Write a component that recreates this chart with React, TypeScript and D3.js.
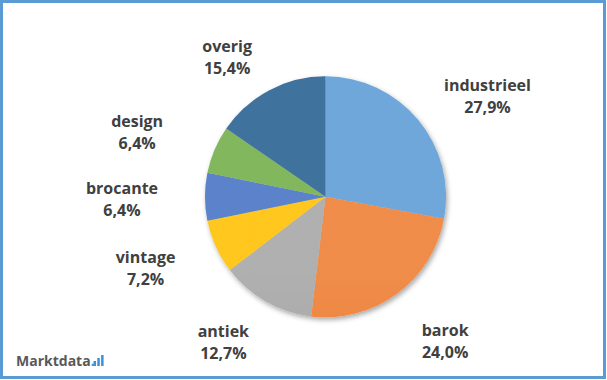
import React from "react";
import * as d3 from "d3";

const categories = ["industrieel", "barok", "antiek", "vintage", "brocante", "design", "overig"];
const values = [27.9, 24.0, 12.7, 7.2, 6.4, 6.4, 15.4];
const valueLabels = ["27,9%", "24,0%", "12,7%", "7,2%", "6,4%", "6,4%", "15,4%"];
const colors = ["#5B9BD5", "#ED7D31", "#A5A5A5", "#FFC000", "#4472C4", "#70AD47", "#255E91"];

// layout-only label nudges (px) relative to the standard outside position
const labelNudge: [number, number][] = [
  [16, 18], [7, -12], [-8, -23], [-7, -11], [-13.5, -1], [-13.5, 6.5], [-10, 25.5],
];

const W = 607;
const H = 380;
const CX = 325.5;
const CY = 196.8;
const R = 120.5;
const LABEL_R = 190;

export default function App() {
  const pie = d3.pie<number>().sort(null).value((d) => d);
  const arcs = pie(values);
  const arcGen = d3.arc<d3.PieArcDatum<number>>().innerRadius(0).outerRadius(R);

  return (
    <svg
      width={W}
      height={H}
      style={{ position: "absolute", left: 0, top: 0, background: "#fff" }}
      fontFamily="'Open Sans', sans-serif"
    >
      <defs>
        <filter id="shadow" x="-20%" y="-20%" width="140%" height="140%">
          <feDropShadow dx="1.5" dy="2.5" stdDeviation="2.5" floodColor="#000" floodOpacity="0.35" />
        </filter>
        <linearGradient id="shine" gradientUnits="userSpaceOnUse" x1="0" y1={CY - R} x2="0" y2={CY + R}>
          <stop offset="0" stopColor="#fff" stopOpacity="0.12" />
          <stop offset="0.5" stopColor="#fff" stopOpacity="0.03" />
          <stop offset="1" stopColor="#000" stopOpacity="0.04" />
        </linearGradient>
      </defs>
      <rect x={0} y={0} width={W} height={H} fill="#fff" />
      <rect x={1.5} y={1.5} width={603} height={376} fill="none" stroke="#5B9BD5" strokeWidth={3} />

      <g transform={`translate(${CX},${CY})`}>
        <g filter="url(#shadow)">
          {arcs.map((a, i) => (
            <path key={i} d={arcGen(a) || ""} fill={colors[i]} />
          ))}
        </g>
        <circle r={R} cx={0} cy={0} fill="url(#shine)" transform={`translate(0,0)`} />
      </g>

      {arcs.map((a, i) => {
        const mid = (a.startAngle + a.endAngle) / 2;
        const x = CX + Math.sin(mid) * LABEL_R + labelNudge[i][0];
        const y = CY - Math.cos(mid) * LABEL_R + labelNudge[i][1];
        return (
          <g key={i} fill="#404040" fontWeight="bold" fontSize={16} textAnchor="middle">
            <text x={x} y={y - 2}>{categories[i]}</text>
            <text x={x} y={y + 20}>{valueLabels[i]}</text>
          </g>
        );
      })}

      <g>
        <text x={16} y={366} fontSize={14} fontWeight="bold" fill="#595959">
          Marktdata<tspan fill="#3F8FDA">.</tspan>
        </text>
        <rect x={93.5} y={361} width={2.5} height={5} fill="#3F8FDA" />
        <rect x={97.3} y={358} width={2.5} height={8} fill="#3F8FDA" />
        <rect x={101.1} y={355} width={2.5} height={11} fill="#3F8FDA" />
      </g>
    </svg>
  );
}
